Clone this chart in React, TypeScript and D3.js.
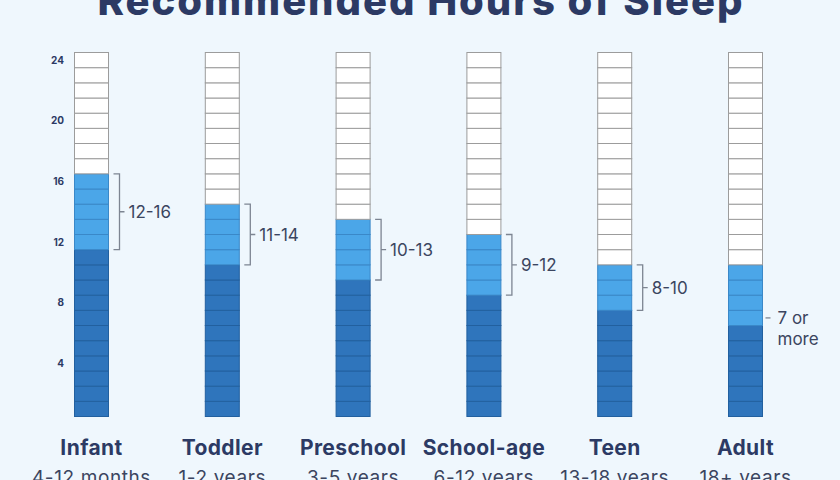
import React from "react";
import * as d3 from "d3";

// Age groups and their recommended sleep ranges (hours, counted as hour cells 1..24)
const groups = ["Infant", "Toddler", "Preschool", "School-age", "Teen", "Adult"];
const ageRanges = ["4-12 months", "1-2 years", "3-5 years", "6-12 years", "13-18 years", "18+ years"];
const minHours = [12, 11, 10, 9, 8, 7];
const maxHours = [16, 14, 13, 12, 10, 10];
const rangeLabels = ["12-16", "11-14", "10-13", "9-12", "8-10", "7 or more"];
const yTicks = [4, 8, 12, 16, 20, 24];
const totalHours = 24;

const W = 840;
const H = 480;
const colW = 34;

const DARK = "#2f75bc";
const LIGHT = "#4ba6e8";
const NAVY = "#2c3a64";
const FONT = "Inter, 'Open Sans', sans-serif";

export default function App() {
  const y = d3.scaleLinear().domain([0, totalHours]).range([416.5, 52.5]);
  const x = d3.scalePoint<string>().domain(groups).range([91.5, 745.5]);
  const hours = d3.range(1, totalHours + 1);
  const cellH = y(0) - y(1);

  return (
    <svg
      width={W}
      height={H}
      style={{ position: "fixed", left: 0, top: 0, background: "#eff7fd" }}
    >
      <rect width={W} height={H} fill="#eff7fd" />
      <text
        x={W / 2}
        y={15}
        textAnchor="middle"
        fontFamily={FONT}
        fontWeight={800}
        fontSize={40}
        textLength={645}
        lengthAdjust="spacing"
        fill={NAVY}
      >
        Recommended Hours of Sleep
      </text>

      {yTicks.map((t) => (
        <text
          key={t}
          x={64}
          y={y(t - 0.5)}
          dy="0.35em"
          textAnchor="end"
          fontFamily={FONT}
          fontWeight={700}
          fontSize={10}
          fill={NAVY}
        >
          {t}
        </text>
      ))}

      {groups.map((g, i) => {
        const cx = x(g) as number;
        const left = cx - colW / 2;
        const right = cx + colW / 2;
        const lo = minHours[i];
        const hi = maxHours[i];
        const isAdult = i === groups.length - 1;
        const bTop = y(hi);
        const bBot = y(lo - 1);
        const bMid = (bTop + bBot) / 2;
        const bx = right + 11;
        return (
          <g key={g}>
            {hours.map((h) => {
              const fill = h < lo ? DARK : h <= hi ? LIGHT : "#ffffff";
              const stroke = h < lo ? "#22609f" : h <= hi ? "#3a88c8" : "#9c9c9c";
              return (
                <rect
                  key={h}
                  x={left}
                  y={y(h)}
                  width={colW}
                  height={cellH}
                  fill={fill}
                  stroke={stroke}
                  strokeWidth={1}
                />
              );
            })}
            {!isAdult && (
              <path
                d={`M${right + 5},${bTop}H${bx}V${bBot}H${right + 5}M${bx},${bMid}H${bx + 5}`}
                fill="none"
                stroke="#7d8592"
                strokeWidth={1.3}
              />
            )}
            {!isAdult ? (
              <text
                x={bx + 9}
                y={bMid}
                dy="0.36em"
                fontFamily={FONT}
                fontSize={17}
                fill="#3b4560"
              >
                {rangeLabels[i]}
              </text>
            ) : (
              <g>
                <path
                  d={`M${right + 3},${y(lo - 0.5)}H${right + 8}`}
                  stroke="#7d8592"
                  strokeWidth={1.3}
                />
                <text
                  x={right + 15}
                  y={y(lo - 0.5)}
                  dy="0.36em"
                  fontFamily={FONT}
                  fontSize={17}
                  fill="#3b4560"
                >
                  {rangeLabels[i].split(" ").slice(0, 2).join(" ")}
                </text>
                <text
                  x={right + 15}
                  y={y(lo - 0.5) + 21}
                  dy="0.36em"
                  fontFamily={FONT}
                  fontSize={17}
                  fill="#3b4560"
                >
                  {rangeLabels[i].split(" ").slice(2).join(" ")}
                </text>
              </g>
            )}
            <text
              x={cx}
              y={455}
              textAnchor="middle"
              fontFamily={FONT}
              fontWeight={700}
              fontSize={21}
              letterSpacing={0.4}
              fill={NAVY}
            >
              {g}
            </text>
            <text
              x={cx}
              y={484}
              textAnchor="middle"
              fontFamily={FONT}
              fontSize={19}
              letterSpacing={0.6}
              fill="#3b4560"
            >
              {ageRanges[i]}
            </text>
          </g>
        );
      })}
    </svg>
  );
}
